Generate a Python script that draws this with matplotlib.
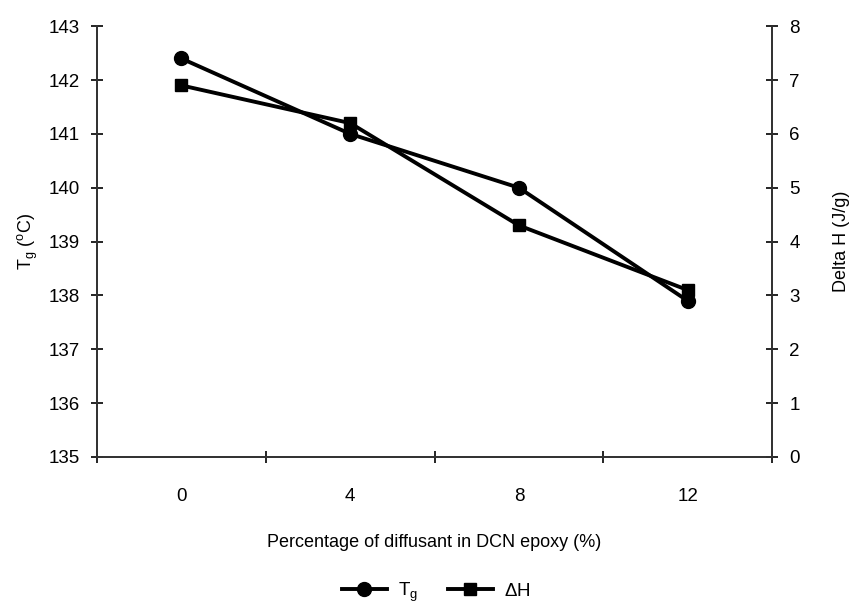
"""
Tg and delta H of DCN epoxy versus diffusant content
"""
import matplotlib
matplotlib.use("Agg")
import matplotlib.pyplot as plt
import numpy as np

plt.rcParams['font.family'] = ['Liberation Sans', 'DejaVu Sans']
plt.rcParams['mathtext.fontset'] = 'custom'
plt.rcParams['mathtext.rm'] = 'Liberation Sans'

# data
pctLabels = ['0', '4', '8', '12']
tg = [142.4, 141.0, 140.0, 137.9]
deltaH = [6.9, 6.2, 4.3, 3.1]

xPos = np.arange(len(pctLabels))

fig = plt.figure(figsize=(8.55, 6.09), dpi=100)
ax = fig.add_axes([0.1135, 0.2496, 0.7895, 0.7074])
ax2 = ax.twinx()

# Tg on left axis, delta H on right axis
l1, = ax.plot(xPos, tg, color='black', lw=2.8, marker='o', ms=10, label=r'T$_\mathregular{g}$')
l2, = ax2.plot(xPos, deltaH, color='black', lw=2.8, marker='s', ms=8, label=r'$\Delta$H')

ax.set_xlim(-0.5, len(pctLabels) - 0.5)
ax.set_ylim(135, 143)
ax2.set_ylim(0, 8)
ax.set_yticks(np.arange(135, 144, 1))
ax2.set_yticks(np.arange(0, 9, 1))

# category boundaries get tick marks, labels sit in between
ax.set_xticks(np.arange(-0.5, len(pctLabels)))
ax.set_xticklabels([])
ax.set_xticks(xPos, minor=True)
ax.set_xticklabels(pctLabels, minor=True)
ax.tick_params(axis='x', which='major', direction='inout', length=9, width=1.2)
ax.tick_params(axis='x', which='minor', length=0, pad=22, labelsize=13.5)

ax.tick_params(axis='y', direction='inout', length=9, width=1.2, labelsize=13.5, pad=8)
ax2.tick_params(axis='y', direction='inout', length=9, width=1.2, labelsize=13.5, pad=8)

for a in (ax, ax2):
    a.spines['top'].set_visible(False)
    for s in a.spines.values():
        s.set_linewidth(1.3)
        s.set_color('#333333')

ax.set_xlabel('Percentage of diffusant in DCN epoxy (%)', fontsize=13, labelpad=21)
ax.set_ylabel(r'T$_\mathregular{g}$ ($^\mathregular{o}$C)', fontsize=13, labelpad=6)
ax2.set_ylabel('Delta H (J/g)', fontsize=13, labelpad=24)

fig.legend(handles=[l1, l2], loc='center', bbox_to_anchor=(0.51, 0.027), ncol=2,
           frameon=False, fontsize=13.5, handlelength=2.4, handletextpad=0.6,
           columnspacing=1.6)

plt.savefig('out.png', dpi=100)
